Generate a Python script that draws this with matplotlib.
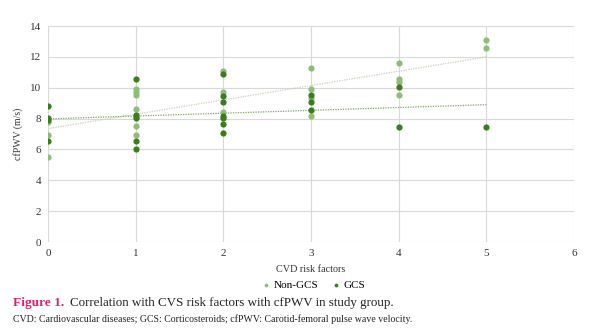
import matplotlib
matplotlib.use("Agg")
import matplotlib.pyplot as plt
import numpy as np

# Data
non_gcs_x = [0, 0, 0, 1, 1, 1, 1, 1, 1, 1, 2, 2, 2, 3, 3, 3, 3, 4, 4, 4, 4, 5, 5]
non_gcs_y = [7.8, 6.95, 5.5, 9.9, 9.75, 9.55, 8.65, 8.1, 7.55, 6.95,
             11.1, 9.75, 8.45, 11.3, 9.9, 9.35, 8.15, 11.6, 10.55, 10.4, 9.55, 13.1, 12.6]
gcs_x = [0, 0, 0, 0, 1, 1, 1, 1, 1, 2, 2, 2, 2, 2, 2, 2, 3, 3, 3, 4, 4, 5]
gcs_y = [8.8, 8.05, 7.9, 6.55, 10.55, 8.2, 8.05, 6.55, 6.05,
         10.9, 9.45, 9.05, 8.15, 8.05, 7.65, 7.05, 9.55, 9.05, 8.55, 10.05, 7.45, 7.45]
x_ticks = [0, 1, 2, 3, 4, 5, 6]
y_ticks = [0, 2, 4, 6, 8, 10, 12, 14]

light = "#8fbc78"
dark = "#3b7d1c"
serif = ["Liberation Serif", "DejaVu Serif"]

fig = plt.figure(figsize=(6.06, 3.35), dpi=100)
ax = fig.add_axes([48/606, 1-242/335, (574-48)/606, (242-26)/335])

ax.scatter(non_gcs_x, non_gcs_y, s=20, color=light, zorder=3, linewidths=0, label="Non-GCS")
ax.scatter(gcs_x, gcs_y, s=20, color=dark, zorder=4, linewidths=0, label="GCS")

# linear trend lines
xs = np.array([0, 5])
p1 = np.polyfit(non_gcs_x, non_gcs_y, 1)
p2 = np.polyfit(gcs_x, gcs_y, 1)
ax.plot(xs, np.polyval(p1, xs), color="#c5d3b8", lw=0.9, ls=(0, (1, 1)), zorder=2)
ax.plot(xs, np.polyval(p2, xs), color="#7fa363", lw=0.9, ls=(0, (1, 1)), zorder=2)

ax.set_xlim(0, 6)
ax.set_ylim(0, 14)
ax.set_xticks(x_ticks)
ax.set_yticks(y_ticks)
ax.grid(True, color="#d9d9d9", lw=0.8, zorder=0)
for s in ax.spines.values():
    s.set_visible(False)
ax.tick_params(axis="x", length=0, labelsize=8, colors="#333333", pad=5)
ax.tick_params(axis="y", length=0, labelsize=8, colors="#333333", pad=5)
for lab in ax.get_xticklabels() + ax.get_yticklabels():
    lab.set_fontfamily(serif)

fig.text(311/606, 1-270/335, "CVD risk factors", fontsize=7.3, family=serif,
         color="#333333", ha="center", va="center")
ax.set_ylabel("cfPWV (m/s)", fontsize=7, family=serif, color="#333333", labelpad=5)

leg = fig.legend(loc="center", bbox_to_anchor=(310/606, 1-285/335), ncol=2, frameon=False,
                 handletextpad=-0.3, columnspacing=0.6, markerscale=0.6,
                 prop={"family": serif, "size": 8})

fig.text(13/606, 1-303/335, "Figure 1.", fontsize=9.6, color="#d6246e", weight="bold",
         family=serif, va="center")
fig.text(70/606, 1-303/335, "Correlation with CVS risk factors with cfPWV in study group.",
         fontsize=9.4, color="#222222", family=serif, va="center")
fig.text(13/606, 1-319/335,
         "CVD: Cardiovascular diseases; GCS: Corticosteroids; cfPWV: Carotid-femoral pulse wave velocity.",
         fontsize=7.1, color="#222222", family=serif, va="center")

fig.savefig("out.png", dpi=100)
